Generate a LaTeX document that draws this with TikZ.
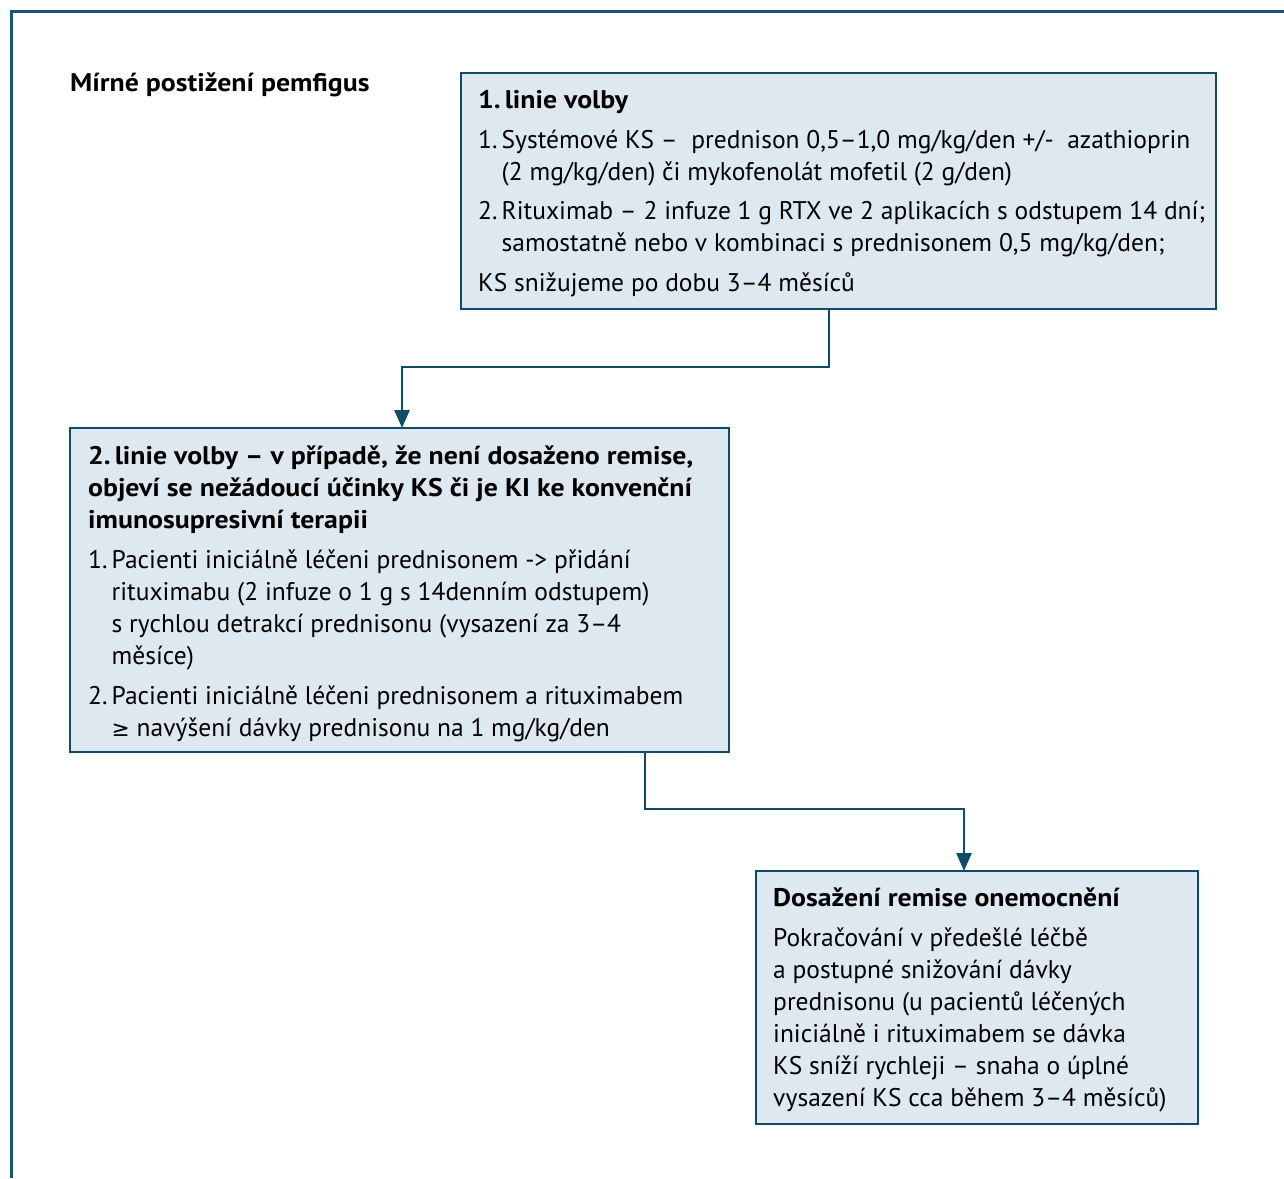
\documentclass[tikz,border=0pt]{standalone}
\usepackage{fontspec}
\setmainfont{PT Sans}[BoldFeatures={FakeStretch=1.09}]
\newfontfamily\symfont{DejaVu Sans}[Scale=0.85]
\usetikzlibrary{arrows.meta}
\definecolor{frameblue}{HTML}{1B5574}
\definecolor{boxborder}{HTML}{0D4B68}
\definecolor{boxfill}{HTML}{DDE8F0}
\newcommand{\itm}[1]{\makebox[23.5pt][l]{#1}}
\newcommand{\ind}{\hspace*{23.5pt}}
\newcommand{\topstrut}{\rule{0pt}{24pt}}
\tikzset{
  box/.style={draw=boxborder, fill=boxfill, line width=2.5pt, anchor=north west, inner sep=0pt, outer sep=0pt},
  txt/.style={anchor=north west, align=left, inner sep=0pt, font=\fontsize{25.5}{32}\selectfont},
  conn/.style={draw=boxborder, line width=2.5pt, -{Triangle[length=18pt,width=15pt]}},
}
\begin{document}
\begin{tikzpicture}[x=1pt,y=-1pt]
\useasboundingbox (0,0) rectangle (1284,1178);
\draw[frameblue, line width=3pt] (1284,11) -- (11,11) -- (11,1178);

\node[box, minimum width=755, minimum height=236] (b1) at (461,73) {};
\node[box, minimum width=659, minimum height=324] (b2) at (70,428) {};
\node[box, minimum width=442, minimum height=253] (b3) at (756,871) {};

\node[txt, anchor=base west, font=\fontsize{25.5}{32}\selectfont\bfseries] (title) at (70,91) {Mírné postižení pemfigus};

\node[txt] (t1) at (478,84) {\topstrut{\bfseries 1.\hspace{4pt}linie volby}\\[8pt]
\itm{1.}Systémové KS – \ prednison 0,5–1,0 mg/kg/den +/- \ azathioprin\\
\ind(2 mg/kg/den) či mykofenolát mofetil (2 g/den)\\[7pt]
\itm{2.}Rituximab – 2 infuze 1 g RTX ve 2 aplikacích s odstupem 14 dní;\\
\ind samostatně nebo v kombinaci s prednisonem 0,5 mg/kg/den;\\[8pt]
KS snižujeme po dobu 3–4 měsíců};

\node[txt] (t2) at (88,440) {\topstrut{\bfseries 2.\hspace{4pt}linie volby – v případě, že není dosaženo remise,}\\
{\bfseries objeví se nežádoucí účinky KS či je KI ke konvenční}\\
{\bfseries imunosupresivní terapii}\\[8pt]
\itm{1.}Pacienti iniciálně léčeni prednisonem -> přidání\\
\ind rituximabu (2 infuze o 1 g s 14denním odstupem)\\
\ind s rychlou detrakcí prednisonu (vysazení za 3–4\\
\ind měsíce)\\[8pt]
\itm{2.}Pacienti iniciálně léčeni prednisonem a rituximabem\\
\ind{\symfont ≥} navýšení dávky prednisonu na 1 mg/kg/den};

\node[txt] (t3) at (773,882) {\topstrut{\bfseries Dosažení remise onemocnění}\\[8pt]
Pokračování v předešlé léčbě\\
a postupné snižování dávky\\
prednisonu (u pacientů léčených\\
iniciálně i rituximabem se dávka\\
KS sníží rychleji – snaha o úplné\\
vysazení KS cca během 3–4 měsíců)};

\coordinate (k1) at (829,367);
\coordinate (k2) at (402,367);
\draw[conn] (b1.south -| k1) -- (k1) -- (k2) -- (b2.north -| k2);
\coordinate (k3) at (645,809);
\coordinate (k4) at (964,809);
\draw[conn] (b2.south -| k3) -- (k3) -- (k4) -- (b3.north -| k4);
\end{tikzpicture}
\end{document}
